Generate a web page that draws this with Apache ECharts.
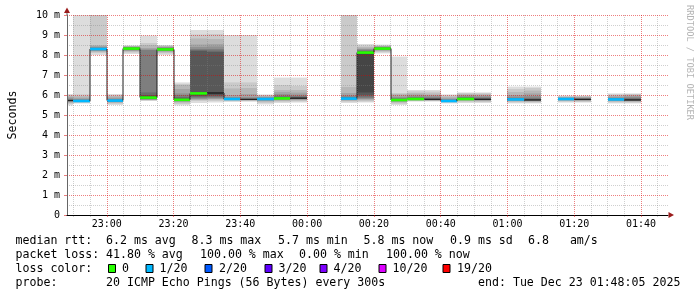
<!DOCTYPE html>
<html><head><meta charset="utf-8">
<script src="https://cdn.jsdelivr.net/npm/echarts@6/dist/echarts.min.js"></script>
<style>html,body{margin:0;padding:0;background:#fff}#c{width:697px;height:297px}</style>
</head><body><div id="c"></div>
<script>
// ---------- DATA ----------
const rangeStart = '22:48:05';
const rangeEnd = '01:48:05';
const stepMinutes = 5;
const stepEnds = ['22:50','22:55','23:00','23:05','23:10','23:15','23:20','23:25','23:30','23:35',
  '23:40','23:45','23:50','23:55','00:00','00:05','00:10','00:15','00:20','00:25',
  '00:30','00:35','00:40','00:45','00:50','00:55','01:00','01:05','01:10','01:15',
  '01:20','01:25','01:30','01:35','01:40'];
const medians = [5.72,5.70,8.30,5.72,8.32,5.87,8.28,5.76,6.08,6.10,
  5.80,5.78,5.80,5.83,5.84,null,null,5.82,8.12,8.32,
  5.75,5.80,5.78,5.70,5.80,5.78,null,5.78,5.75,null,
  5.80,5.78,null,5.78,5.75];
const losses = [null,1,1,1,0,0,0,0,0,null,
  1,null,1,0,null,20,20,1,0,0,
  0,0,null,1,0,null,20,1,null,20,
  1,null,20,1,null];
const pings = [
  [5.48,5.55,5.6,5.64,5.67,5.69,5.7,5.71,5.72,5.72,5.73,5.74,5.75,5.77,5.8,5.84,5.9,5.96,6.0,6.05],
  [5.58,5.62,5.64,5.66,5.67,5.68,5.69,5.69,5.7,5.7,5.71,5.72,5.74,5.76,5.8,5.86,5.94,6.03,11.5],
  [8.0,8.1,8.15,8.2,8.22,8.24,8.26,8.27,8.28,8.3,8.31,8.32,8.34,8.36,8.4,8.45,8.5,10.8,12.0],
  [5.5,5.56,5.6,5.64,5.66,5.68,5.69,5.7,5.71,5.72,5.73,5.74,5.76,5.78,5.82,5.88,5.95,6.0,6.05],
  [8.05,8.12,8.17,8.2,8.23,8.25,8.27,8.29,8.3,8.31,8.33,8.34,8.35,8.37,8.38,8.4,8.42,8.44,8.46,8.48],
  [5.7,5.72,5.75,5.76,5.78,5.79,5.8,5.82,5.83,5.85,5.9,5.95,6.0,6.13,8.25,8.28,8.35,8.5,8.6,8.97],
  [8.0,8.08,8.13,8.17,8.2,8.22,8.24,8.25,8.26,8.27,8.29,8.3,8.32,8.34,8.36,8.38,8.41,8.44,8.47,8.5],
  [5.48,5.55,5.62,5.66,5.69,5.71,5.72,5.73,5.74,5.75,5.77,5.8,5.83,5.9,6.0,6.08,6.3,6.5,6.55,6.63],
  [5.6,5.7,5.75,5.78,5.8,5.85,5.9,5.95,6.0,6.06,6.1,6.13,8.2,8.25,8.3,8.4,8.53,8.83,9.03,9.25],
  [5.62,5.7,5.76,5.8,5.83,5.87,5.92,5.98,6.04,6.08,6.12,6.15,8.15,8.22,8.3,8.42,8.55,8.8,9.05,9.25],
  [5.65,5.7,5.73,5.75,5.77,5.78,5.79,5.8,5.8,5.8,5.81,5.82,5.84,5.86,5.9,6.0,6.33,6.63,9.0],
  [5.66,5.7,5.72,5.74,5.75,5.76,5.77,5.77,5.78,5.78,5.78,5.79,5.8,5.82,5.85,5.9,6.05,6.35,6.63,9.0],
  [5.53,5.6,5.66,5.7,5.73,5.75,5.77,5.78,5.79,5.8,5.81,5.82,5.84,5.86,5.88,5.92,5.96,6.0,6.03],
  [5.6,5.66,5.7,5.74,5.77,5.79,5.8,5.81,5.82,5.83,5.84,5.86,5.88,5.92,5.97,6.05,6.15,6.25,6.5,6.87],
  [5.62,5.68,5.72,5.76,5.78,5.8,5.81,5.82,5.83,5.84,5.85,5.86,5.88,5.91,5.95,6.02,6.12,6.25,6.45,6.87],
  [],
  [],
  [5.6,5.66,5.7,5.74,5.77,5.79,5.8,5.81,5.82,5.82,5.83,5.85,5.88,5.92,5.98,6.1,6.4,10.5,12.0],
  [5.62,5.67,5.72,5.77,5.8,5.85,5.92,6.0,6.13,8.1,8.14,8.15,8.17,8.2,8.25,8.3,8.33,8.4,8.47,8.55],
  [8.08,8.14,8.19,8.22,8.25,8.27,8.29,8.3,8.31,8.32,8.33,8.34,8.35,8.37,8.39,8.41,8.43,8.45,8.48,8.52],
  [5.5,5.56,5.62,5.66,5.69,5.71,5.72,5.73,5.74,5.75,5.76,5.77,5.78,5.8,5.85,5.9,5.98,6.05,6.1,7.92],
  [5.67,5.7,5.72,5.74,5.76,5.77,5.78,5.79,5.8,5.8,5.81,5.82,5.84,5.86,5.9,5.96,6.03,6.1,6.18,6.25],
  [5.67,5.7,5.72,5.73,5.75,5.76,5.77,5.77,5.78,5.78,5.79,5.8,5.82,5.85,5.88,5.94,6.0,6.08,6.17,6.25],
  [5.58,5.62,5.65,5.67,5.68,5.69,5.69,5.7,5.7,5.7,5.71,5.72,5.74,5.77,5.8,5.86,5.92,5.98,6.03],
  [5.6,5.66,5.7,5.73,5.75,5.77,5.78,5.79,5.8,5.8,5.81,5.82,5.84,5.87,5.9,5.95,6.0,6.05,6.1,6.13],
  [5.6,5.65,5.69,5.72,5.74,5.76,5.77,5.77,5.78,5.78,5.79,5.8,5.82,5.85,5.88,5.93,5.98,6.04,6.09,6.13],
  [],
  [5.58,5.63,5.67,5.7,5.72,5.74,5.75,5.76,5.77,5.78,5.79,5.8,5.82,5.86,5.92,6.0,6.15,6.3,6.42],
  [5.58,5.62,5.66,5.69,5.71,5.72,5.73,5.74,5.75,5.75,5.76,5.77,5.79,5.82,5.87,5.95,6.08,6.22,6.35,6.42],
  [],
  [5.62,5.67,5.7,5.73,5.75,5.76,5.77,5.78,5.79,5.8,5.8,5.81,5.82,5.84,5.86,5.88,5.91,5.94,5.97],
  [5.62,5.66,5.69,5.72,5.74,5.75,5.76,5.77,5.77,5.78,5.78,5.79,5.8,5.82,5.84,5.86,5.89,5.92,5.95,5.97],
  [],
  [5.58,5.63,5.67,5.7,5.72,5.74,5.75,5.76,5.77,5.78,5.79,5.8,5.82,5.85,5.88,5.93,5.98,6.03,6.08],
  [5.58,5.62,5.66,5.69,5.71,5.72,5.73,5.74,5.75,5.75,5.76,5.77,5.79,5.82,5.86,5.91,5.96,6.01,6.05,6.08]
];
const xTickLabels = ['23:00','23:20','23:40','00:00','00:20','00:40','01:00','01:20','01:40'];
const yMaxMs = 10;
const yStepMs = 1;
const lossLevels = [0,1,2,3,4,10,19];
const lossLabels = ['0','1/20','2/20','3/20','4/20','10/20','19/20'];
const lossColors = ['#26ff00','#00b8ff','#0059ff','#5e00ff','#7e00ff','#dd00ff','#ff0000'];
const rttLabel = 'median rtt:';
const rttStats = ['6.2 ms avg','8.3 ms max','5.7 ms min','5.8 ms now','0.9 ms sd','6.8   am/s'];
const lossLabel = 'packet loss:';
const lossStats = ['41.80 % avg','100.00 % max','0.00 % min','100.00 % now'];
const lossColorLabel = 'loss color:';
const probeLabel = 'probe:';
const probeText = '20 ICMP Echo Pings (56 Bytes) every 300s';
const endText = 'end: Tue Dec 23 01:48:05 2025';
const yTitle = 'Seconds';
const watermark = 'RRDTOOL / TOBI OETIKER';

// ---------- LAYOUT ----------
const MONO = '"DejaVu Sans Mono", "Liberation Mono", monospace';
const LEG_FS = 11.6;
const rowY = [241, 255, 268.5, 283];
const rttX = [106, 191.5, 278, 363.5, 450, 528];
const lossX = [106, 200, 299, 386];
const boxX = [108.5, 146, 205, 265, 320, 379, 443];
const boxLabelX = [122, 159.5, 219, 278.5, 333.5, 392.5, 457];
const MAJOR = 'rgba(220,0,0,0.5)';
const MINOR = 'rgba(128,128,128,0.38)';

function toMin(s){
  const parts = s.split(':').map(Number);
  const h = parts[0], m = parts[1], sec = parts[2] || 0;
  return (h >= 12 ? h - 22 : h + 2) * 60 + m + sec / 60;
}
function fmtMin(v){
  const t = Math.round(v);
  const h = (22 + Math.floor(t / 60)) % 24, m = t % 60;
  return String(h).padStart(2,'0') + ':' + String(m).padStart(2,'0');
}
const xMin = toMin(rangeStart), xMax = toMin(rangeEnd);
const xMajor = xTickLabels.map(toMin);
const xMinor = [];
for (let v = Math.ceil(xMin / stepMinutes) * stepMinutes; v <= xMax; v += stepMinutes) {
  if (xMajor.indexOf(v) < 0) xMinor.push(v);
}

function lossColor(l){
  if (l == null) return null;
  const idx = lossLevels.findIndex(x => l <= x);
  return idx < 0 ? null : lossColors[idx];
}

function renderItem(params, api){
  const i = api.value(3);
  const cs = params.coordSys;
  const t0 = api.value(0), t1 = api.value(1);
  let xa = Math.round(api.coord([t0, 0])[0]);
  let xb = Math.round(api.coord([t1, 0])[0]);
  xa = Math.max(xa, cs.x); xb = Math.min(xb, cs.x + cs.width);
  if (xb <= xa) return null;
  const top = cs.y, bot = cs.y + cs.height;
  const yOf = v => api.coord([t0, v])[1];
  const kids = [];
  const p = pings[i].slice().sort((a, b) => a - b);
  const n = p.length;
  for (let k = 0; k < Math.floor(n / 2); k++) {
    const shade = Math.floor(190 / 10 * (10 - (k + 1))) + 50;
    const y1 = Math.max(yOf(p[n - 1 - k]), top);
    const y2 = Math.min(yOf(p[k]), bot);
    if (y2 - y1 <= 0) continue;
    kids.push({type:'rect', shape:{x:xa, y:y1, width:xb - xa, height:y2 - y1},
      style:{fill:'rgb(' + shade + ',' + shade + ',' + shade + ')'}});
  }
  const m = medians[i];
  if (m != null) {
    const ym = yOf(m);
    if (i > 0 && medians[i - 1] != null) {
      const yp = yOf(medians[i - 1]);
      if (Math.abs(yp - ym) > 1) {
        kids.push({type:'rect', shape:{x:xa - 0.5, y:Math.min(yp, ym), width:1, height:Math.abs(yp - ym)},
          style:{fill:'#202020'}});
      }
    }
    kids.push({type:'rect', shape:{x:xa, y:ym - 0.5, width:xb - xa, height:1}, style:{fill:'#202020'}});
    const c = lossColor(losses[i]);
    if (c) kids.push({type:'rect', shape:{x:xa, y:ym - 1.3, width:xb - xa, height:2.6}, style:{fill:c}});
  }
  return {type:'group', children:kids};
}

function txt(text, x, y, opts){
  opts = opts || {};
  return {type:'text', x:x, y:y, rotation:opts.rotation || 0, silent:true, z:10,
    style:{text:text, fill:opts.color || '#000', fontSize:opts.fs || LEG_FS, fontFamily:MONO,
      align:opts.align || 'left', verticalAlign:'middle', textAlign:opts.align || 'left', textVerticalAlign:'middle'}};
}

const graphics = [];
graphics.push(txt(rttLabel, 15.5, rowY[0]));
rttStats.forEach((s, j) => graphics.push(txt(s, rttX[j], rowY[0])));
graphics.push(txt(lossLabel, 15.5, rowY[1]));
lossStats.forEach((s, j) => graphics.push(txt(s, lossX[j], rowY[1])));
graphics.push(txt(lossColorLabel, 15.5, rowY[2]));
lossLabels.forEach((s, j) => {
  graphics.push({type:'rect', silent:true, z:10, shape:{x:boxX[j], y:rowY[2] - 4, width:7, height:8},
    style:{fill:lossColors[j], stroke:'#000', lineWidth:1}});
  graphics.push(txt(s, boxLabelX[j], rowY[2]));
});
graphics.push(txt(probeLabel, 15.5, rowY[3]));
graphics.push(txt(probeText, 106, rowY[3]));
graphics.push(txt(endText, 478, rowY[3]));
graphics.push(txt(watermark, 689.5, 5, {rotation:-Math.PI / 2, fs:8.7, color:'#b4b4b4'}));

const axisFont = {fontFamily:MONO, fontSize:10, color:'#000'};
const option = {
  animation:false,
  backgroundColor:'#ffffff',
  grid:{left:67, right:29, top:15, bottom:82, containLabel:false, outerBoundsMode:'none'},
  xAxis:[
    {type:'value', position:'bottom', min:xMin, max:xMax, z:3,
      axisLine:{show:false}, axisLabel:{show:false},
      axisTick:{show:true, length:2, customValues:xMinor, lineStyle:{color:MINOR}},
      splitLine:{show:true, lineStyle:{color:MINOR, width:1, type:[1,1]}}},
    {type:'value', position:'bottom', min:xMin, max:xMax, z:5,
      axisLine:{show:true, lineStyle:{color:'#000', width:1}},
      axisTick:{show:true, length:2, customValues:xMajor, lineStyle:{color:MAJOR}},
      axisLabel:Object.assign({customValues:xMajor, margin:4, formatter:fmtMin}, axisFont),
      splitLine:{show:true, lineStyle:{color:MAJOR, width:1, type:[1,1]}}}
  ],
  yAxis:[
    {type:'value', position:'left', min:0, max:yMaxMs, interval:yStepMs, z:4,
      name:yTitle, nameLocation:'middle', nameGap:48,
      nameTextStyle:{fontFamily:MONO, fontSize:LEG_FS, color:'#000'},
      axisLine:{show:true, lineStyle:{color:'#666', width:1}},
      axisTick:{show:true, length:3, lineStyle:{color:MAJOR}},
      minorTick:{show:false, splitNumber:2},
      minorSplitLine:{show:true, lineStyle:{color:MINOR, width:1, type:[1,1]}},
      axisLabel:Object.assign({margin:7, formatter:v => v === 0 ? '0' : v + ' m'}, axisFont),
      splitLine:{show:true, lineStyle:{color:MAJOR, width:1, type:[1,1]}}}
  ],
  graphic:graphics,
  series:[{
    type:'custom', coordinateSystem:'cartesian2d', xAxisIndex:1, yAxisIndex:0, z:2,
    data: stepEnds.map((t, i) => [toMin(t) - stepMinutes, toMin(t), medians[i] == null ? 0 : medians[i], i]),
    encode:{x:[0,1], y:2},
    renderItem:renderItem
  }]
};
const chart = echarts.init(document.getElementById('c'), null, {renderer:'canvas'});
chart.setOption(option);
// arrows at axis ends
const o = chart.convertToPixel({xAxisIndex:1, yAxisIndex:0}, [xMin, yMaxMs]);
const e = chart.convertToPixel({xAxisIndex:1, yAxisIndex:0}, [xMax, 0]);
chart.setOption({graphic: graphics.concat([
  {type:'line', silent:true, z:9, shape:{x1:o[0], y1:o[1], x2:o[0], y2:o[1] - 3}, style:{stroke:'#666', lineWidth:1}},
  {type:'polygon', silent:true, z:10, shape:{points:[[o[0] - 3, o[1] - 2], [o[0] + 3, o[1] - 2], [o[0], o[1] - 7.5]]}, style:{fill:'#9b1c1c'}},
  {type:'polygon', silent:true, z:10, shape:{points:[[e[0] + 0.5, e[1] - 3], [e[0] + 0.5, e[1] + 3], [e[0] + 6, e[1]]]}, style:{fill:'#9b1c1c'}}
])});
</script>
</body></html>
